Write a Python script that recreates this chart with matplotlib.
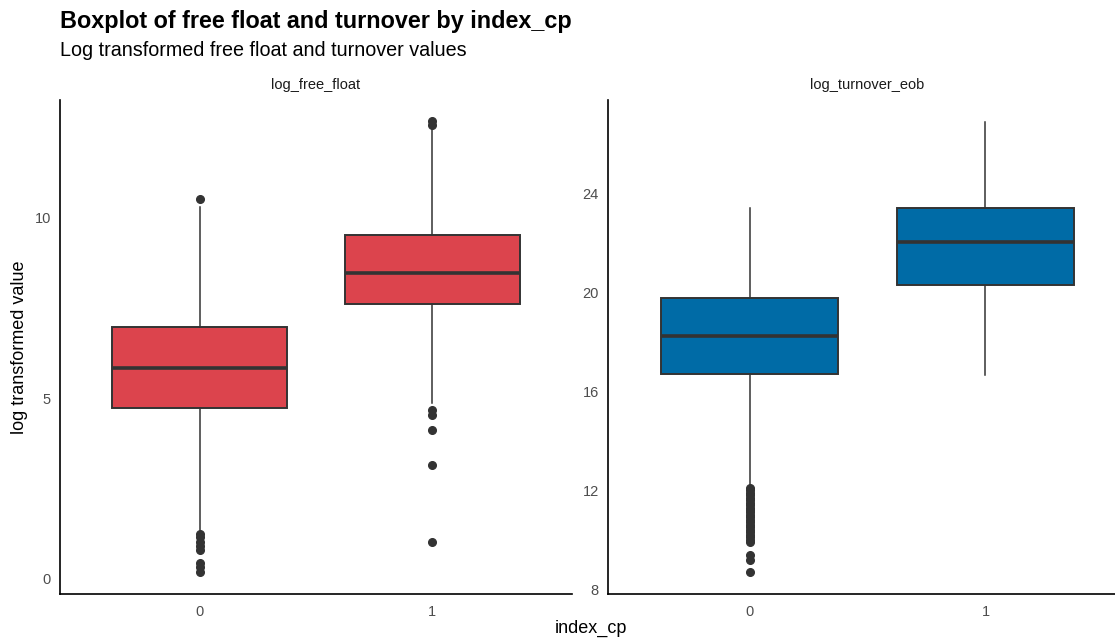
import matplotlib
matplotlib.use("Agg")
import matplotlib.pyplot as plt

plt.rcParams['font.family'] = ['Liberation Sans', 'DejaVu Sans']

# 箱型圖數值
groups = ['0', '1']
panels = ['log_free_float', 'log_turnover_eob']

ff_whislo = [1.36, 4.88]
ff_q1 = [4.74, 7.62]
ff_med = [5.84, 8.48]
ff_q3 = [6.98, 9.53]
ff_whishi = [10.3, 12.49]
ff_fliers = [
    [10.53, 1.25, 1.16, 1.02, 0.91, 0.80, 0.44, 0.33, 0.19],
    [12.69, 12.58, 4.68, 4.55, 4.13, 3.16, 1.02],
]

to_whislo = [12.2, 16.67]
to_q1 = [16.71, 20.31]
to_med = [18.25, 22.05]
to_q3 = [19.79, 23.43]
to_whishi = [23.43, 26.9]
to_fliers = [
    [12.1, 12.0, 11.9, 11.8, 11.7, 11.6, 11.5, 11.4, 11.3, 11.2, 11.1, 11.0,
     10.9, 10.8, 10.7, 10.6, 10.5, 10.4, 10.3, 10.2, 10.1, 10.0, 9.9,
     9.38, 9.17, 8.69],
    [],
]

ff_ylim = (-0.42, 13.27)
to_ylim = (7.8, 27.8)
ff_ticks = [0, 5, 10]
to_ticks = [8, 12, 16, 20, 24]

fill_colors = ['#DC444D', '#006BA6']


def make_stats(lo, q1, med, q3, hi, fl):
    return [dict(whislo=lo[i], q1=q1[i], med=med[i], q3=q3[i], whishi=hi[i],
                 fliers=fl[i], label=groups[i]) for i in range(len(groups))]


W, H = 1115, 641
fig = plt.figure(figsize=(W / 100, H / 100), dpi=100)
ax1 = fig.add_axes([60 / W, 1 - 594 / H, 512 / W, 494 / H])
ax2 = fig.add_axes([608 / W, 1 - 594 / H, 519 / W, 494 / H])

for ax, stats, color, ylim, ticks, name in [
    (ax1, make_stats(ff_whislo, ff_q1, ff_med, ff_q3, ff_whishi, ff_fliers),
     fill_colors[0], ff_ylim, ff_ticks, panels[0]),
    (ax2, make_stats(to_whislo, to_q1, to_med, to_q3, to_whishi, to_fliers),
     fill_colors[1], to_ylim, to_ticks, panels[1]),
]:
    ax.bxp(stats, positions=[1, 2], widths=0.75, patch_artist=True,
           showcaps=False,
           boxprops=dict(facecolor=color, edgecolor='#333333', linewidth=1.4),
           medianprops=dict(color='#333333', linewidth=2.6),
           whiskerprops=dict(color='#333333', linewidth=1.1),
           flierprops=dict(marker='o', markerfacecolor='#333333',
                           markeredgecolor='#333333', markersize=5.5))
    ax.set_xlim(0.4, 2.6)
    ax.set_ylim(*ylim)
    ax.set_yticks(ticks)
    ax.set_xticks([1, 2])
    ax.set_xticklabels(groups)
    ax.tick_params(length=0, labelsize=10.5, labelcolor='#4d4d4d')
    ax.tick_params(axis='x', pad=8)
    ax.tick_params(axis='y', pad=6.5)
    for s in ['top', 'right']:
        ax.spines[s].set_visible(False)
    for s in ['left', 'bottom']:
        ax.spines[s].set_linewidth(1.2)
        ax.spines[s].set_color('black')
    ax.set_title(name, fontsize=10.5, color='#1a1a1a', pad=8)

ax1.set_ylabel('log transformed value', fontsize=13, labelpad=5)
fig.text(591 / W, 1 - 633 / H, 'index_cp', fontsize=13, ha='center',
         va='baseline')

fig.text(60 / W, 1 - 28 / H, 'Boxplot of free float and turnover by index_cp',
         fontsize=16.8, fontweight='bold', va='baseline')
fig.text(60 / W, 1 - 56 / H, 'Log transformed free float and turnover values',
         fontsize=14.2, va='baseline')

fig.savefig('out.png', dpi=100)
